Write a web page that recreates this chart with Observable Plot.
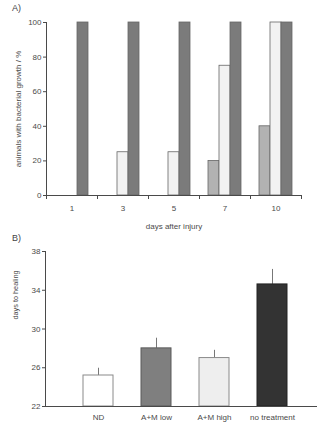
<!DOCTYPE html>
<html>
<head>
<meta charset="utf-8">
<script src="https://cdn.jsdelivr.net/npm/d3@7"></script>
<script src="https://cdn.jsdelivr.net/npm/@observablehq/plot@0.6"></script>
<style>
  html, body { margin: 0; padding: 0; background: white; }
  #wrap { position: relative; width: 324px; height: 426px; font-family: "Liberation Sans", Arial, sans-serif; }
  .lab { position: absolute; font-size: 9px; color: #444; }
  svg { display: block; }
</style>
</head>
<body>
<div id="wrap">
  <div class="lab" style="left:12px; top:3px;">A)</div>
  <div class="lab" style="left:12px; top:233px;">B)</div>
  <div id="a"></div>
  <div id="b"></div>
</div>
<script>
// Panel A data
const days = ["1", "3", "5", "7", "10"];
const seriesA = ["A+M low", "A+M high", "no treatment"];
const lowA = [0, 0, 0, 20, 40];
const highA = [0, 25, 25, 75, 100];
const noneA = [100, 100, 100, 100, 100];
const colorsA = ["#b2b2b2", "#f2f2f2", "#7b7b7b"];
const yTicksA = [0, 20, 40, 60, 80, 100];

// Panel B data
const groupsB = ["ND", "A+M low", "A+M high", "no treatment"];
const healB = [25.2, 28.0, 27.0, 34.6];
const errB = [0.75, 1.05, 0.8, 1.55];
const colorsB = ["#ffffff", "#7f7f7f", "#eeeeee", "#333333"];
const strokesB = ["#8a8a8a", "#5a5a5a", "#8a8a8a", "#222222"];
const yTicksB = [22, 26, 30, 34, 38];
const yLabelB = "days to healing";

const valsA = [lowA, highA, noneA];
const dataA = [];
days.forEach((d, i) => seriesA.forEach((s, j) => dataA.push({day: d, series: s, value: valsA[j][i]})));
const barsA = dataA.filter(d => d.value > 0);

const style = {fontFamily: "'Liberation Sans', Arial, sans-serif", fontSize: "8px", color: "#4a4a4a", background: "white"};

const plotA = Plot.plot({
  width: 324,
  height: 232,
  marginLeft: 45,
  marginRight: 23,
  marginTop: 22,
  marginBottom: 37,
  style,
  fx: {domain: days, padding: 0},
  x: {domain: seriesA, padding: 0, paddingOuter: 0.72, axis: null},
  y: {domain: [0, 100]},
  color: {domain: seriesA, range: colorsA},
  marks: [
    Plot.barY(barsA, {fx: "day", x: "series", y: "value", fill: "series", stroke: "#666", strokeWidth: 0.8}),
    Plot.ruleY([0], {stroke: "#4a4a4a"}),
    Plot.frame({anchor: "left", insetTop: 173, insetBottom: -3, stroke: "#4a4a4a"}),
    Plot.frame({anchor: "right", insetTop: 173, insetBottom: -3, stroke: "#4a4a4a"}),
    Plot.frame({anchor: "left", facet: "super", stroke: "#4a4a4a"}),
    Plot.axisY({ticks: yTicksA, tickSize: 3, tickPadding: 2, label: "animals with bacterial growth / %", labelAnchor: "center", labelOffset: 31, labelArrow: "none"}),
    Plot.axisFx({anchor: "bottom", tickSize: 0, tickPadding: 10, label: "days after injury", labelAnchor: "center", labelOffset: 33, labelArrow: "none"})
  ]
});
document.getElementById("a").appendChild(plotA);

const dataB = groupsB.map((g, i) => ({group: g, value: healB[i], err: errB[i], top: healB[i] + errB[i]}));

const plotB = Plot.plot({
  width: 324,
  height: 194,
  marginLeft: 45,
  marginRight: 7,
  marginTop: 19,
  marginBottom: 20,
  style,
  x: {domain: groupsB, insetLeft: 8, padding: 0.485},
  y: {domain: [22, 38]},
  color: {domain: groupsB, range: colorsB},
  marks: [
    Plot.ruleX(dataB, {x: "group", y1: "value", y2: "top", stroke: "#777"}),
    Plot.tickY(dataB, {x: "group", y: "top", stroke: "#777", insetLeft: 15, insetRight: 15}),
    Plot.barY(dataB, {x: "group", y1: 22, y2: "value", fill: "group", stroke: (d, i) => strokesB[i], strokeWidth: 1}),
    Plot.ruleY([22], {stroke: "#4a4a4a"}),
    Plot.frame({anchor: "left", stroke: "#4a4a4a"}),
    Plot.axisY({ticks: yTicksB, tickSize: 3, tickPadding: 2, label: null}),
    Plot.text([yLabelB], {frameAnchor: "left", rotate: -90, dx: -29.5, dy: -9.5, fontSize: 7.3, lineAnchor: "middle", fill: "#4a4a4a"}),
    Plot.axisX({tickSize: 0, tickPadding: 8, label: null})
  ]
});
document.getElementById("b").appendChild(plotB);
</script>
</body>
</html>
